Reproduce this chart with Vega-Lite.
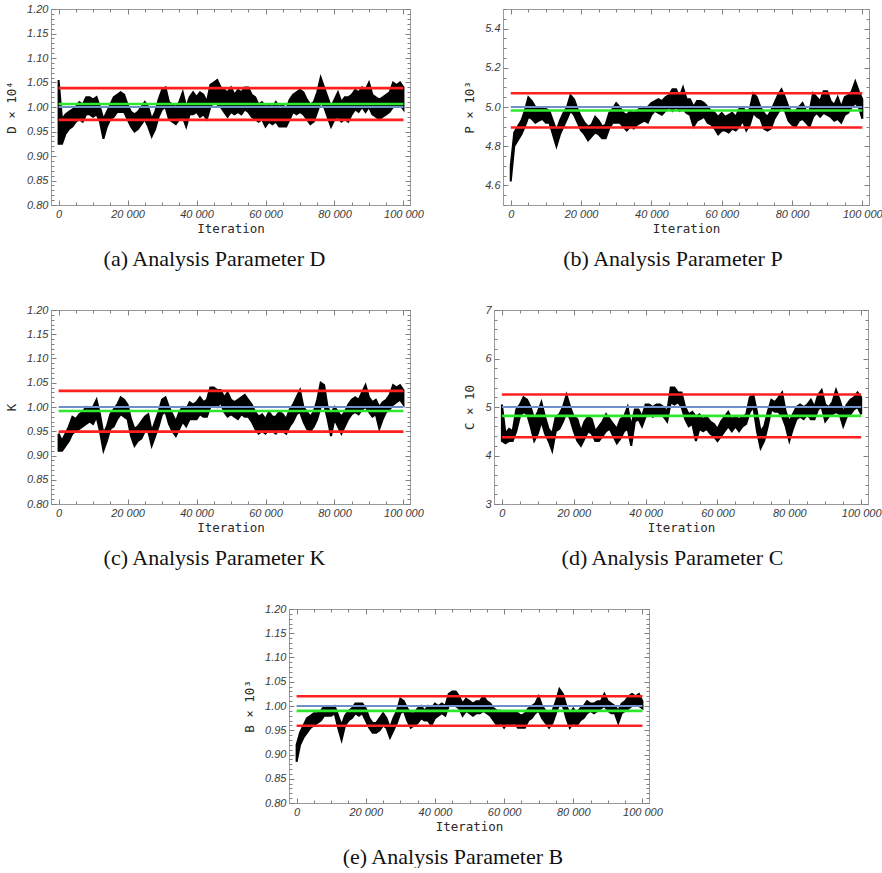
{
"$schema": "https://vega.github.io/schema/vega-lite/v6.json",
"background": "white",
"padding": {"left": 5, "top": 2, "right": 0, "bottom": 0},
"config": {
  "font": "Liberation Sans",
  "view": {"stroke": "#9a9a9a", "strokeWidth": 1},
  "axis": {"domain": false, "grid": false, "labels": false, "ticks": true, "tickColor": "#808080", "tickWidth": 1,
    "labelFont": "Liberation Sans", "labelFontStyle": "italic", "labelFontSize": 11, "labelColor": "#3a3a3a",
    "labelFlush": false, "labelPadding": 3, "labelOverlap": false,
    "titleFont": "DejaVu Sans Mono", "titleFontSize": 12.5, "titleFontWeight": "normal", "titleColor": "#2a2a2a", "titlePadding": 3},
  "title": {"font": "Liberation Serif", "fontSize": 22, "fontWeight": "normal", "color": "#111111", "orient": "bottom", "anchor": "middle", "offset": 14, "frame": "bounds"},
  "locale": {"number": {"decimal": ".", "thousands": " ", "grouping": [3], "currency": ["", ""]}}
},
"datasets": {
"levels": [
 {"p":"a","k":"upper","v":1.0386},{"p":"a","k":"lower","v":0.9738},{"p":"a","k":"mean","v":1.0062},{"p":"a","k":"true","v":1.0},
 {"p":"b","k":"upper","v":5.0705},{"p":"b","k":"lower","v":4.8955},{"p":"b","k":"mean","v":4.982},{"p":"b","k":"true","v":5.0},
 {"p":"c","k":"upper","v":1.0333},{"p":"c","k":"lower","v":0.9493},{"p":"c","k":"mean","v":0.9917},{"p":"c","k":"true","v":1.0},
 {"p":"d","k":"upper","v":5.258},{"p":"d","k":"lower","v":4.377},{"p":"d","k":"mean","v":4.817},{"p":"d","k":"true","v":5.0},
 {"p":"e","k":"upper","v":1.0202},{"p":"e","k":"lower","v":0.9592},{"p":"e","k":"mean","v":0.990},{"p":"e","k":"true","v":1.0}
],
"a": [
{"i":0,"lo":0.925,"hi":1.055},{"i":1000,"lo":0.925,"hi":0.975},{"i":2000,"lo":0.945,"hi":0.985},{"i":3000,"lo":0.955,"hi":0.99},{"i":4000,"lo":0.96,"hi":0.995},
{"i":5000,"lo":0.97,"hi":1.0},{"i":6000,"lo":0.975,"hi":1.01},{"i":7000,"lo":0.97,"hi":1.005},{"i":8000,"lo":0.985,"hi":1.02},{"i":9000,"lo":0.985,"hi":1.02},
{"i":10000,"lo":0.98,"hi":1.015},{"i":11000,"lo":0.985,"hi":1.02},{"i":12000,"lo":0.97,"hi":1.0},{"i":13000,"lo":0.935,"hi":0.975},{"i":14000,"lo":0.96,"hi":0.99},
{"i":15000,"lo":0.975,"hi":1.005},{"i":16000,"lo":0.98,"hi":1.02},{"i":17000,"lo":0.99,"hi":1.025},{"i":18000,"lo":0.99,"hi":1.03},{"i":19000,"lo":0.99,"hi":1.025},
{"i":20000,"lo":0.975,"hi":1.005},{"i":21000,"lo":0.96,"hi":0.99},{"i":22000,"lo":0.95,"hi":0.985},{"i":23000,"lo":0.955,"hi":0.99},{"i":24000,"lo":0.965,"hi":1.0},
{"i":25000,"lo":0.975,"hi":1.01},{"i":26000,"lo":0.96,"hi":1.0},{"i":27000,"lo":0.94,"hi":0.975},{"i":28000,"lo":0.955,"hi":0.99},{"i":29000,"lo":0.98,"hi":1.015},
{"i":30000,"lo":0.995,"hi":1.035},{"i":31000,"lo":1.0,"hi":1.04},{"i":32000,"lo":0.975,"hi":1.01},{"i":33000,"lo":0.97,"hi":1.005},{"i":34000,"lo":0.965,"hi":1.0},
{"i":35000,"lo":0.975,"hi":1.01},{"i":36000,"lo":0.98,"hi":1.03},{"i":37000,"lo":0.96,"hi":1.0},{"i":38000,"lo":0.985,"hi":1.02},{"i":39000,"lo":0.985,"hi":1.03},
{"i":40000,"lo":0.99,"hi":1.02},{"i":41000,"lo":0.98,"hi":1.03},{"i":42000,"lo":0.985,"hi":1.025},{"i":43000,"lo":0.975,"hi":1.01},{"i":44000,"lo":1.0,"hi":1.045},
{"i":45000,"lo":1.01,"hi":1.05},{"i":46000,"lo":1.005,"hi":1.055},{"i":47000,"lo":1.0,"hi":1.04},{"i":48000,"lo":0.99,"hi":1.035},{"i":49000,"lo":0.98,"hi":1.03},
{"i":50000,"lo":0.99,"hi":1.04},{"i":51000,"lo":0.985,"hi":1.025},{"i":52000,"lo":0.99,"hi":1.035},{"i":53000,"lo":0.985,"hi":1.03},{"i":54000,"lo":0.995,"hi":1.04},
{"i":55000,"lo":0.99,"hi":1.04},{"i":56000,"lo":0.98,"hi":1.025},{"i":57000,"lo":0.975,"hi":1.02},{"i":58000,"lo":0.97,"hi":1.005},{"i":59000,"lo":0.975,"hi":1.01},
{"i":60000,"lo":0.96,"hi":1.0},{"i":61000,"lo":0.97,"hi":1.005},{"i":62000,"lo":0.965,"hi":1.0},{"i":63000,"lo":0.97,"hi":1.01},{"i":64000,"lo":0.96,"hi":1.0},
{"i":65000,"lo":0.96,"hi":1.005},{"i":66000,"lo":0.96,"hi":0.995},{"i":67000,"lo":0.975,"hi":1.015},{"i":68000,"lo":0.99,"hi":1.025},{"i":69000,"lo":0.985,"hi":1.03},
{"i":70000,"lo":0.99,"hi":1.035},{"i":71000,"lo":0.985,"hi":1.03},{"i":72000,"lo":0.975,"hi":1.015},{"i":73000,"lo":0.965,"hi":1.005},{"i":74000,"lo":0.97,"hi":1.01},
{"i":75000,"lo":0.99,"hi":1.03},{"i":76000,"lo":1.01,"hi":1.06},{"i":77000,"lo":1.0,"hi":1.04},{"i":78000,"lo":0.98,"hi":1.02},{"i":79000,"lo":0.96,"hi":1.0},
{"i":80000,"lo":0.975,"hi":1.015},{"i":81000,"lo":0.98,"hi":1.03},{"i":82000,"lo":0.97,"hi":1.01},{"i":83000,"lo":0.975,"hi":1.02},{"i":84000,"lo":0.97,"hi":1.02},
{"i":85000,"lo":0.985,"hi":1.025},{"i":86000,"lo":0.995,"hi":1.035},{"i":87000,"lo":0.99,"hi":1.03},{"i":88000,"lo":1.0,"hi":1.04},{"i":89000,"lo":0.99,"hi":1.035},
{"i":90000,"lo":1.0,"hi":1.05},{"i":91000,"lo":0.985,"hi":1.025},{"i":92000,"lo":0.98,"hi":1.02},{"i":93000,"lo":0.975,"hi":1.015},{"i":94000,"lo":0.98,"hi":1.02},
{"i":95000,"lo":0.985,"hi":1.025},{"i":96000,"lo":0.99,"hi":1.03},{"i":97000,"lo":1.0,"hi":1.05},{"i":98000,"lo":1.0,"hi":1.045},{"i":99000,"lo":1.005,"hi":1.05},
{"i":100000,"lo":0.995,"hi":1.04}
],
"b": [
{"i":0,"lo":4.62,"hi":4.70},{"i":1000,"lo":4.80,"hi":4.87},{"i":2000,"lo":4.83,"hi":4.90},{"i":3000,"lo":4.86,"hi":4.93},{"i":4000,"lo":4.90,"hi":4.98},
{"i":5000,"lo":4.95,"hi":5.05},{"i":6000,"lo":4.94,"hi":5.03},{"i":7000,"lo":4.92,"hi":5.0},{"i":8000,"lo":4.93,"hi":5.0},{"i":9000,"lo":4.94,"hi":5.0},
{"i":10000,"lo":4.92,"hi":4.99},{"i":11000,"lo":4.92,"hi":4.98},{"i":12000,"lo":4.86,"hi":4.93},{"i":13000,"lo":4.80,"hi":4.88},{"i":14000,"lo":4.86,"hi":4.93},
{"i":15000,"lo":4.90,"hi":4.97},{"i":16000,"lo":4.94,"hi":5.0},{"i":17000,"lo":4.98,"hi":5.06},{"i":18000,"lo":4.96,"hi":5.04},{"i":19000,"lo":4.92,"hi":4.99},
{"i":20000,"lo":4.88,"hi":4.95},{"i":21000,"lo":4.86,"hi":4.92},{"i":22000,"lo":4.83,"hi":4.90},{"i":23000,"lo":4.85,"hi":4.91},{"i":24000,"lo":4.87,"hi":4.95},
{"i":25000,"lo":4.86,"hi":4.93},{"i":26000,"lo":4.84,"hi":4.90},{"i":27000,"lo":4.84,"hi":4.91},{"i":28000,"lo":4.89,"hi":4.97},{"i":29000,"lo":4.92,"hi":4.99},
{"i":30000,"lo":4.92,"hi":5.02},{"i":31000,"lo":4.92,"hi":5.0},{"i":32000,"lo":4.90,"hi":4.97},{"i":33000,"lo":4.88,"hi":4.96},{"i":34000,"lo":4.90,"hi":4.98},
{"i":35000,"lo":4.89,"hi":4.97},{"i":36000,"lo":4.91,"hi":4.98},{"i":37000,"lo":4.92,"hi":5.0},{"i":38000,"lo":4.93,"hi":4.99},{"i":39000,"lo":4.92,"hi":5.0},
{"i":40000,"lo":4.96,"hi":5.02},{"i":41000,"lo":4.98,"hi":5.03},{"i":42000,"lo":4.97,"hi":5.04},{"i":43000,"lo":4.96,"hi":5.03},{"i":44000,"lo":4.98,"hi":5.05},
{"i":45000,"lo":5.0,"hi":5.06},{"i":46000,"lo":4.98,"hi":5.09},{"i":47000,"lo":5.0,"hi":5.09},{"i":48000,"lo":4.98,"hi":5.05},{"i":49000,"lo":4.99,"hi":5.10},
{"i":50000,"lo":4.97,"hi":5.04},{"i":51000,"lo":4.96,"hi":5.04},{"i":52000,"lo":4.90,"hi":5.0},{"i":53000,"lo":4.93,"hi":5.03},{"i":54000,"lo":4.94,"hi":5.03},
{"i":55000,"lo":4.95,"hi":5.02},{"i":56000,"lo":4.92,"hi":5.0},{"i":57000,"lo":4.91,"hi":4.98},{"i":58000,"lo":4.89,"hi":4.97},{"i":59000,"lo":4.86,"hi":4.95},
{"i":60000,"lo":4.88,"hi":4.97},{"i":61000,"lo":4.88,"hi":4.95},{"i":62000,"lo":4.87,"hi":4.96},{"i":63000,"lo":4.89,"hi":4.97},{"i":64000,"lo":4.88,"hi":4.95},
{"i":65000,"lo":4.90,"hi":4.99},{"i":66000,"lo":4.93,"hi":5.0},{"i":67000,"lo":4.88,"hi":4.97},{"i":68000,"lo":4.91,"hi":4.99},{"i":69000,"lo":4.97,"hi":5.07},
{"i":70000,"lo":4.95,"hi":5.05},{"i":71000,"lo":4.94,"hi":5.0},{"i":72000,"lo":4.89,"hi":4.97},{"i":73000,"lo":4.88,"hi":4.95},{"i":74000,"lo":4.89,"hi":4.98},
{"i":75000,"lo":4.94,"hi":5.02},{"i":76000,"lo":4.97,"hi":5.06},{"i":77000,"lo":5.0,"hi":5.09},{"i":78000,"lo":4.98,"hi":5.05},{"i":79000,"lo":4.93,"hi":5.0},
{"i":80000,"lo":4.91,"hi":4.97},{"i":81000,"lo":4.90,"hi":4.98},{"i":82000,"lo":4.93,"hi":5.0},{"i":83000,"lo":4.94,"hi":5.02},{"i":84000,"lo":4.92,"hi":4.98},
{"i":85000,"lo":4.90,"hi":4.98},{"i":86000,"lo":4.95,"hi":5.07},{"i":87000,"lo":4.97,"hi":5.05},{"i":88000,"lo":4.95,"hi":5.03},{"i":89000,"lo":4.97,"hi":5.08},
{"i":90000,"lo":4.96,"hi":5.08},{"i":91000,"lo":4.95,"hi":5.03},{"i":92000,"lo":4.93,"hi":5.01},{"i":93000,"lo":4.94,"hi":5.05},{"i":94000,"lo":4.92,"hi":5.0},
{"i":95000,"lo":4.96,"hi":5.05},{"i":96000,"lo":4.97,"hi":5.06},{"i":97000,"lo":5.0,"hi":5.08},{"i":98000,"lo":5.02,"hi":5.13},{"i":99000,"lo":5.0,"hi":5.08},
{"i":100000,"lo":4.94,"hi":5.04}
],
"c": [
{"i":0,"lo":0.91,"hi":0.945},{"i":1000,"lo":0.91,"hi":0.93},{"i":2000,"lo":0.92,"hi":0.945},{"i":3000,"lo":0.93,"hi":0.96},{"i":4000,"lo":0.945,"hi":0.98},
{"i":5000,"lo":0.95,"hi":0.975},{"i":6000,"lo":0.955,"hi":0.985},{"i":7000,"lo":0.96,"hi":0.99},{"i":8000,"lo":0.965,"hi":1.0},{"i":9000,"lo":0.97,"hi":0.995},
{"i":10000,"lo":0.965,"hi":1.0},{"i":11000,"lo":0.98,"hi":1.015},{"i":12000,"lo":0.95,"hi":0.985},{"i":13000,"lo":0.91,"hi":0.945},{"i":14000,"lo":0.93,"hi":0.96},
{"i":15000,"lo":0.955,"hi":0.985},{"i":16000,"lo":0.96,"hi":0.995},{"i":17000,"lo":0.975,"hi":1.005},{"i":18000,"lo":0.985,"hi":1.02},{"i":19000,"lo":0.98,"hi":1.015},
{"i":20000,"lo":0.975,"hi":1.005},{"i":21000,"lo":0.94,"hi":0.975},{"i":22000,"lo":0.92,"hi":0.955},{"i":23000,"lo":0.93,"hi":0.96},{"i":24000,"lo":0.935,"hi":0.97},
{"i":25000,"lo":0.95,"hi":0.98},{"i":26000,"lo":0.95,"hi":0.985},{"i":27000,"lo":0.92,"hi":0.95},{"i":28000,"lo":0.94,"hi":0.97},{"i":29000,"lo":0.96,"hi":0.99},
{"i":30000,"lo":0.985,"hi":1.015},{"i":31000,"lo":0.99,"hi":1.02},{"i":32000,"lo":0.965,"hi":1.0},{"i":33000,"lo":0.95,"hi":0.985},{"i":34000,"lo":0.94,"hi":0.97},
{"i":35000,"lo":0.955,"hi":0.99},{"i":36000,"lo":0.97,"hi":1.0},{"i":37000,"lo":0.96,"hi":0.995},{"i":38000,"lo":0.975,"hi":1.01},{"i":39000,"lo":0.975,"hi":1.005},
{"i":40000,"lo":0.975,"hi":1.01},{"i":41000,"lo":0.985,"hi":1.02},{"i":42000,"lo":0.98,"hi":1.01},{"i":43000,"lo":0.98,"hi":1.015},{"i":44000,"lo":1.0,"hi":1.04},
{"i":45000,"lo":1.005,"hi":1.04},{"i":46000,"lo":1.0,"hi":1.035},{"i":47000,"lo":1.01,"hi":1.035},{"i":48000,"lo":0.99,"hi":1.02},{"i":49000,"lo":0.98,"hi":1.03},
{"i":50000,"lo":0.985,"hi":1.015},{"i":51000,"lo":0.98,"hi":1.01},{"i":52000,"lo":0.975,"hi":1.015},{"i":53000,"lo":0.985,"hi":1.02},{"i":54000,"lo":0.98,"hi":1.025},
{"i":55000,"lo":0.98,"hi":1.015},{"i":56000,"lo":0.97,"hi":1.005},{"i":57000,"lo":0.955,"hi":0.99},{"i":58000,"lo":0.945,"hi":0.98},{"i":59000,"lo":0.95,"hi":0.985},
{"i":60000,"lo":0.945,"hi":0.975},{"i":61000,"lo":0.955,"hi":0.99},{"i":62000,"lo":0.95,"hi":0.98},{"i":63000,"lo":0.945,"hi":0.98},{"i":64000,"lo":0.955,"hi":0.99},
{"i":65000,"lo":0.95,"hi":0.985},{"i":66000,"lo":0.945,"hi":0.975},{"i":67000,"lo":0.96,"hi":0.995},{"i":68000,"lo":0.97,"hi":1.005},{"i":69000,"lo":0.985,"hi":1.02},
{"i":70000,"lo":0.99,"hi":1.035},{"i":71000,"lo":0.97,"hi":1.0},{"i":72000,"lo":0.955,"hi":0.99},{"i":73000,"lo":0.95,"hi":0.98},{"i":74000,"lo":0.96,"hi":0.99},
{"i":75000,"lo":0.975,"hi":1.015},{"i":76000,"lo":1.0,"hi":1.05},{"i":77000,"lo":1.005,"hi":1.045},{"i":78000,"lo":0.975,"hi":1.0},{"i":79000,"lo":0.94,"hi":0.985},
{"i":80000,"lo":0.975,"hi":1.0},{"i":81000,"lo":0.96,"hi":0.99},{"i":82000,"lo":0.945,"hi":0.98},{"i":83000,"lo":0.96,"hi":0.99},{"i":84000,"lo":0.975,"hi":1.005},
{"i":85000,"lo":0.985,"hi":1.015},{"i":86000,"lo":0.99,"hi":1.02},{"i":87000,"lo":0.985,"hi":1.015},{"i":88000,"lo":0.995,"hi":1.03},{"i":89000,"lo":1.0,"hi":1.045},
{"i":90000,"lo":0.99,"hi":1.02},{"i":91000,"lo":0.98,"hi":1.01},{"i":92000,"lo":0.985,"hi":1.015},{"i":93000,"lo":0.955,"hi":1.0},{"i":94000,"lo":0.975,"hi":1.01},
{"i":95000,"lo":0.99,"hi":1.015},{"i":96000,"lo":0.995,"hi":1.025},{"i":97000,"lo":1.005,"hi":1.045},{"i":98000,"lo":1.01,"hi":1.04},{"i":99000,"lo":1.015,"hi":1.045},
{"i":100000,"lo":1.005,"hi":1.035}
],
"d": [
{"i":0,"lo":4.3,"hi":5.05},{"i":1000,"lo":4.25,"hi":4.45},{"i":2000,"lo":4.3,"hi":4.55},{"i":3000,"lo":4.3,"hi":4.5},{"i":4000,"lo":4.5,"hi":4.95},
{"i":5000,"lo":4.8,"hi":5.05},{"i":6000,"lo":4.9,"hi":5.2},{"i":7000,"lo":4.85,"hi":5.15},{"i":8000,"lo":4.6,"hi":5.0},{"i":9000,"lo":4.3,"hi":4.75},
{"i":10000,"lo":4.45,"hi":4.9},{"i":11000,"lo":4.7,"hi":5.1},{"i":12000,"lo":4.45,"hi":4.8},{"i":13000,"lo":4.3,"hi":4.55},{"i":14000,"lo":4.1,"hi":4.45},
{"i":15000,"lo":4.5,"hi":4.8},{"i":16000,"lo":4.55,"hi":4.85},{"i":17000,"lo":4.7,"hi":5.0},{"i":18000,"lo":4.9,"hi":5.25},{"i":19000,"lo":4.75,"hi":5.0},
{"i":20000,"lo":4.5,"hi":4.8},{"i":21000,"lo":4.3,"hi":4.75},{"i":22000,"lo":4.2,"hi":4.5},{"i":23000,"lo":4.35,"hi":4.7},{"i":24000,"lo":4.5,"hi":4.8},
{"i":25000,"lo":4.45,"hi":4.75},{"i":26000,"lo":4.3,"hi":4.5},{"i":27000,"lo":4.3,"hi":4.6},{"i":28000,"lo":4.4,"hi":4.7},{"i":29000,"lo":4.5,"hi":4.85},
{"i":30000,"lo":4.55,"hi":4.75},{"i":31000,"lo":4.4,"hi":4.65},{"i":32000,"lo":4.25,"hi":4.55},{"i":33000,"lo":4.35,"hi":4.75},{"i":34000,"lo":4.5,"hi":4.8},
{"i":35000,"lo":4.55,"hi":5.0},{"i":36000,"lo":4.2,"hi":4.6},{"i":37000,"lo":4.7,"hi":4.95},{"i":38000,"lo":4.75,"hi":4.95},{"i":39000,"lo":4.6,"hi":4.8},
{"i":40000,"lo":4.8,"hi":5.05},{"i":41000,"lo":4.85,"hi":5.05},{"i":42000,"lo":4.8,"hi":5.0},{"i":43000,"lo":4.85,"hi":5.05},{"i":44000,"lo":4.85,"hi":5.05},
{"i":45000,"lo":4.8,"hi":5.0},{"i":46000,"lo":4.7,"hi":4.9},{"i":47000,"lo":5.1,"hi":5.4},{"i":48000,"lo":5.05,"hi":5.4},{"i":49000,"lo":5.1,"hi":5.3},
{"i":50000,"lo":5.0,"hi":5.3},{"i":51000,"lo":4.75,"hi":5.0},{"i":52000,"lo":4.6,"hi":4.85},{"i":53000,"lo":4.65,"hi":4.9},{"i":54000,"lo":4.3,"hi":4.8},
{"i":55000,"lo":4.55,"hi":4.85},{"i":56000,"lo":4.5,"hi":4.75},{"i":57000,"lo":4.55,"hi":4.8},{"i":58000,"lo":4.45,"hi":4.7},{"i":59000,"lo":4.4,"hi":4.65},
{"i":60000,"lo":4.3,"hi":4.55},{"i":61000,"lo":4.4,"hi":4.7},{"i":62000,"lo":4.5,"hi":4.8},{"i":63000,"lo":4.6,"hi":4.9},{"i":64000,"lo":4.5,"hi":4.75},
{"i":65000,"lo":4.6,"hi":4.8},{"i":66000,"lo":4.5,"hi":4.75},{"i":67000,"lo":4.6,"hi":4.8},{"i":68000,"lo":4.65,"hi":4.85},{"i":69000,"lo":4.9,"hi":5.2},
{"i":70000,"lo":5.0,"hi":5.25},{"i":71000,"lo":4.5,"hi":4.9},{"i":72000,"lo":4.15,"hi":4.5},{"i":73000,"lo":4.3,"hi":4.6},{"i":74000,"lo":4.6,"hi":4.9},
{"i":75000,"lo":4.95,"hi":5.15},{"i":76000,"lo":4.9,"hi":5.1},{"i":77000,"lo":4.9,"hi":5.2},{"i":78000,"lo":4.8,"hi":5.3},{"i":79000,"lo":4.6,"hi":4.9},
{"i":80000,"lo":4.3,"hi":4.7},{"i":81000,"lo":4.55,"hi":4.85},{"i":82000,"lo":4.75,"hi":5.0},{"i":83000,"lo":4.8,"hi":5.05},{"i":84000,"lo":4.75,"hi":5.0},
{"i":85000,"lo":4.85,"hi":5.05},{"i":86000,"lo":4.75,"hi":5.15},{"i":87000,"lo":4.75,"hi":5.0},{"i":88000,"lo":4.95,"hi":5.25},{"i":89000,"lo":5.0,"hi":5.35},
{"i":90000,"lo":4.7,"hi":5.05},{"i":91000,"lo":4.8,"hi":5.0},{"i":92000,"lo":4.85,"hi":5.1},{"i":93000,"lo":4.9,"hi":5.35},{"i":94000,"lo":4.85,"hi":5.15},
{"i":95000,"lo":4.6,"hi":4.9},{"i":96000,"lo":4.8,"hi":5.05},{"i":97000,"lo":4.85,"hi":5.15},{"i":98000,"lo":4.95,"hi":5.2},{"i":99000,"lo":5.0,"hi":5.3},
{"i":100000,"lo":4.85,"hi":5.2}
],
"e": [
{"i":0,"lo":0.885,"hi":0.92},{"i":1000,"lo":0.92,"hi":0.945},{"i":2000,"lo":0.935,"hi":0.96},{"i":3000,"lo":0.945,"hi":0.975},{"i":4000,"lo":0.955,"hi":0.98},
{"i":5000,"lo":0.96,"hi":0.985},{"i":6000,"lo":0.965,"hi":0.985},{"i":7000,"lo":0.97,"hi":0.99},{"i":8000,"lo":0.98,"hi":1.0},{"i":9000,"lo":0.98,"hi":1.0},
{"i":10000,"lo":0.98,"hi":0.995},{"i":11000,"lo":0.985,"hi":1.0},{"i":12000,"lo":0.955,"hi":0.98},{"i":13000,"lo":0.93,"hi":0.96},{"i":14000,"lo":0.96,"hi":0.98},
{"i":15000,"lo":0.97,"hi":0.99},{"i":16000,"lo":0.975,"hi":0.995},{"i":17000,"lo":0.985,"hi":1.005},{"i":18000,"lo":0.98,"hi":1.005},{"i":19000,"lo":0.985,"hi":1.005},
{"i":20000,"lo":0.97,"hi":0.995},{"i":21000,"lo":0.955,"hi":0.975},{"i":22000,"lo":0.945,"hi":0.965},{"i":23000,"lo":0.945,"hi":0.965},{"i":24000,"lo":0.95,"hi":0.975},
{"i":25000,"lo":0.96,"hi":0.985},{"i":26000,"lo":0.955,"hi":0.975},{"i":27000,"lo":0.935,"hi":0.955},{"i":28000,"lo":0.95,"hi":0.975},{"i":29000,"lo":0.965,"hi":0.99},
{"i":30000,"lo":0.985,"hi":1.015},{"i":31000,"lo":0.99,"hi":1.01},{"i":32000,"lo":0.97,"hi":0.995},{"i":33000,"lo":0.955,"hi":0.985},{"i":34000,"lo":0.96,"hi":0.985},
{"i":35000,"lo":0.965,"hi":0.995},{"i":36000,"lo":0.975,"hi":1.0},{"i":37000,"lo":0.97,"hi":0.99},{"i":38000,"lo":0.97,"hi":1.0},{"i":39000,"lo":0.96,"hi":0.995},
{"i":40000,"lo":0.975,"hi":1.005},{"i":41000,"lo":0.98,"hi":1.0},{"i":42000,"lo":0.985,"hi":1.005},{"i":43000,"lo":0.98,"hi":1.0},{"i":44000,"lo":1.0,"hi":1.025},
{"i":45000,"lo":1.005,"hi":1.03},{"i":46000,"lo":1.0,"hi":1.03},{"i":47000,"lo":0.995,"hi":1.02},{"i":48000,"lo":0.98,"hi":1.005},{"i":49000,"lo":0.99,"hi":1.015},
{"i":50000,"lo":0.985,"hi":1.01},{"i":51000,"lo":0.98,"hi":1.005},{"i":52000,"lo":0.985,"hi":1.01},{"i":53000,"lo":0.985,"hi":1.01},{"i":54000,"lo":0.99,"hi":1.02},
{"i":55000,"lo":0.985,"hi":1.01},{"i":56000,"lo":0.98,"hi":1.005},{"i":57000,"lo":0.97,"hi":0.995},{"i":58000,"lo":0.96,"hi":0.99},{"i":59000,"lo":0.965,"hi":0.99},
{"i":60000,"lo":0.955,"hi":0.985},{"i":61000,"lo":0.965,"hi":0.99},{"i":62000,"lo":0.96,"hi":0.985},{"i":63000,"lo":0.965,"hi":0.99},{"i":64000,"lo":0.955,"hi":0.985},
{"i":65000,"lo":0.955,"hi":0.98},{"i":66000,"lo":0.955,"hi":0.985},{"i":67000,"lo":0.97,"hi":0.995},{"i":68000,"lo":0.975,"hi":1.0},{"i":69000,"lo":0.985,"hi":1.005},
{"i":70000,"lo":0.99,"hi":1.02},{"i":71000,"lo":0.975,"hi":1.0},{"i":72000,"lo":0.965,"hi":0.99},{"i":73000,"lo":0.955,"hi":0.985},{"i":74000,"lo":0.965,"hi":0.99},
{"i":75000,"lo":0.985,"hi":1.01},{"i":76000,"lo":1.005,"hi":1.035},{"i":77000,"lo":1.0,"hi":1.025},{"i":78000,"lo":0.975,"hi":1.0},{"i":79000,"lo":0.955,"hi":0.985},
{"i":80000,"lo":0.965,"hi":0.995},{"i":81000,"lo":0.96,"hi":0.985},{"i":82000,"lo":0.97,"hi":0.995},{"i":83000,"lo":0.975,"hi":1.0},{"i":84000,"lo":0.985,"hi":1.01},
{"i":85000,"lo":0.99,"hi":1.005},{"i":86000,"lo":0.985,"hi":1.005},{"i":87000,"lo":0.99,"hi":1.01},{"i":88000,"lo":0.995,"hi":1.01},{"i":89000,"lo":1.0,"hi":1.025},
{"i":90000,"lo":0.99,"hi":1.01},{"i":91000,"lo":0.985,"hi":1.005},{"i":92000,"lo":0.985,"hi":1.0},{"i":93000,"lo":0.965,"hi":0.99},{"i":94000,"lo":0.985,"hi":1.005},
{"i":95000,"lo":0.99,"hi":1.01},{"i":96000,"lo":0.995,"hi":1.02},{"i":97000,"lo":1.0,"hi":1.025},{"i":98000,"lo":1.0,"hi":1.02},{"i":99000,"lo":1.0,"hi":1.025},
{"i":100000,"lo":0.995,"hi":1.01}
]
},
"spacing": 33,
"vconcat": [
{"bounds": "flush", "spacing": 93, "hconcat": [
 {"width": 359, "height": 196, "data": {"name": "a"}, "title": {"text": "(a)  Analysis Parameter D"},
  "resolve": {"axis": {"x": "independent", "y": "independent"}},
  "layer": [
   {"mark": {"type": "area", "color": "#000000", "stroke": "#000000", "strokeWidth": 2},
    "encoding": {
     "x": {"field": "i", "type": "quantitative", "scale": {"domain": [-2200, 101900], "nice": false, "zero": false},
           "axis": {"orient": "bottom", "labels": true, "ticks": false, "tickSize": 0, "tickCount": 5, "format": ",d", "title": "Iteration"}},
     "y": {"field": "lo", "type": "quantitative", "scale": {"domain": [0.8, 1.2], "nice": false, "zero": false},
           "axis": {"orient": "left", "labels": true, "ticks": false, "tickSize": 0, "tickCount": 8, "format": ".2f", "title": "D × 10⁴", "titlePadding": 8}},
     "y2": {"field": "hi"}}},
   {"data": {"name": "levels"}, "transform": [{"filter": "datum.p == 'a'"}], "mark": {"type": "rule"},
    "encoding": {"x": {"datum": 0, "axis": null}, "x2": {"datum": 100000},
     "y": {"field": "v", "type": "quantitative", "axis": null},
     "color": {"field": "k", "type": "nominal", "scale": {"domain": ["upper", "lower", "mean", "true"], "range": ["#ff1f1f", "#ff1f1f", "#2ee82e", "#6f8fca"]}, "legend": null},
     "strokeWidth": {"condition": {"test": "datum.k == 'true'", "value": 1.8}, "value": 2.6}}},
   {"mark": {"type": "point", "opacity": 0},
    "encoding": {"x": {"field": "i", "type": "quantitative", "axis": {"orient": "bottom", "tickCount": 5, "tickSize": -5, "title": null}},
                 "y": {"field": "lo", "type": "quantitative", "axis": {"orient": "left", "tickCount": 8, "tickSize": -5, "title": null}}}},
   {"mark": {"type": "point", "opacity": 0},
    "encoding": {"x": {"field": "i", "type": "quantitative", "axis": {"orient": "bottom", "tickCount": 20, "tickSize": -3, "title": null}},
                 "y": {"field": "lo", "type": "quantitative", "axis": {"orient": "left", "tickCount": 40, "tickSize": -3, "title": null}}}},
   {"mark": {"type": "point", "opacity": 0},
    "encoding": {"x": {"field": "i", "type": "quantitative", "axis": {"orient": "top", "tickCount": 5, "tickSize": -5, "title": null}},
                 "y": {"field": "lo", "type": "quantitative", "axis": {"orient": "right", "tickCount": 8, "tickSize": -5, "title": null}}}},
   {"mark": {"type": "point", "opacity": 0},
    "encoding": {"x": {"field": "i", "type": "quantitative", "axis": {"orient": "top", "tickCount": 20, "tickSize": -3, "title": null}},
                 "y": {"field": "lo", "type": "quantitative", "axis": {"orient": "right", "tickCount": 40, "tickSize": -3, "title": null}}}}
  ]},
 {"width": 366, "height": 196, "data": {"name": "b"}, "title": {"text": "(b)  Analysis Parameter P"},
  "resolve": {"axis": {"x": "independent", "y": "independent"}},
  "layer": [
   {"mark": {"type": "area", "color": "#000000", "stroke": "#000000", "strokeWidth": 2},
    "encoding": {
     "x": {"field": "i", "type": "quantitative", "scale": {"domain": [-2200, 101900], "nice": false, "zero": false},
           "axis": {"orient": "bottom", "labels": true, "ticks": false, "tickSize": 0, "tickCount": 5, "format": ",d", "title": "Iteration"}},
     "y": {"field": "lo", "type": "quantitative", "scale": {"domain": [4.5, 5.5], "nice": false, "zero": false},
           "axis": {"orient": "left", "labels": true, "ticks": false, "tickSize": 0, "tickCount": 5, "format": ".1f", "title": "P × 10³", "titlePadding": 8}},
     "y2": {"field": "hi"}}},
   {"data": {"name": "levels"}, "transform": [{"filter": "datum.p == 'b'"}], "mark": {"type": "rule"},
    "encoding": {"x": {"datum": 0, "axis": null}, "x2": {"datum": 100000},
     "y": {"field": "v", "type": "quantitative", "axis": null},
     "color": {"field": "k", "type": "nominal", "scale": {"domain": ["upper", "lower", "mean", "true"], "range": ["#ff1f1f", "#ff1f1f", "#2ee82e", "#6f8fca"]}, "legend": null},
     "strokeWidth": {"condition": {"test": "datum.k == 'true'", "value": 1.8}, "value": 2.6}}},
   {"mark": {"type": "point", "opacity": 0},
    "encoding": {"x": {"field": "i", "type": "quantitative", "axis": {"orient": "bottom", "tickCount": 5, "tickSize": -5, "title": null}},
                 "y": {"field": "lo", "type": "quantitative", "axis": {"orient": "left", "tickCount": 5, "tickSize": -5, "title": null}}}},
   {"mark": {"type": "point", "opacity": 0},
    "encoding": {"x": {"field": "i", "type": "quantitative", "axis": {"orient": "bottom", "tickCount": 20, "tickSize": -3, "title": null}},
                 "y": {"field": "lo", "type": "quantitative", "axis": {"orient": "left", "tickCount": 20, "tickSize": -3, "title": null}}}},
   {"mark": {"type": "point", "opacity": 0},
    "encoding": {"x": {"field": "i", "type": "quantitative", "axis": {"orient": "top", "tickCount": 5, "tickSize": -5, "title": null}},
                 "y": {"field": "lo", "type": "quantitative", "axis": {"orient": "right", "tickCount": 5, "tickSize": -5, "title": null}}}},
   {"mark": {"type": "point", "opacity": 0},
    "encoding": {"x": {"field": "i", "type": "quantitative", "axis": {"orient": "top", "tickCount": 20, "tickSize": -3, "title": null}},
                 "y": {"field": "lo", "type": "quantitative", "axis": {"orient": "right", "tickCount": 20, "tickSize": -3, "title": null}}}}
  ]}
]},
{"bounds": "flush", "spacing": 84, "hconcat": [
 {"width": 359, "height": 194, "data": {"name": "c"}, "title": {"text": "(c)  Analysis Parameter K"},
  "resolve": {"axis": {"x": "independent", "y": "independent"}},
  "layer": [
   {"mark": {"type": "area", "color": "#000000", "stroke": "#000000", "strokeWidth": 2},
    "encoding": {
     "x": {"field": "i", "type": "quantitative", "scale": {"domain": [-2200, 101900], "nice": false, "zero": false},
           "axis": {"orient": "bottom", "labels": true, "ticks": false, "tickSize": 0, "tickCount": 5, "format": ",d", "title": "Iteration"}},
     "y": {"field": "lo", "type": "quantitative", "scale": {"domain": [0.8, 1.2], "nice": false, "zero": false},
           "axis": {"orient": "left", "labels": true, "ticks": false, "tickSize": 0, "tickCount": 8, "format": ".2f", "title": "K", "titlePadding": 8}},
     "y2": {"field": "hi"}}},
   {"data": {"name": "levels"}, "transform": [{"filter": "datum.p == 'c'"}], "mark": {"type": "rule"},
    "encoding": {"x": {"datum": 0, "axis": null}, "x2": {"datum": 100000},
     "y": {"field": "v", "type": "quantitative", "axis": null},
     "color": {"field": "k", "type": "nominal", "scale": {"domain": ["upper", "lower", "mean", "true"], "range": ["#ff1f1f", "#ff1f1f", "#2ee82e", "#6f8fca"]}, "legend": null},
     "strokeWidth": {"condition": {"test": "datum.k == 'true'", "value": 1.8}, "value": 2.6}}},
   {"mark": {"type": "point", "opacity": 0},
    "encoding": {"x": {"field": "i", "type": "quantitative", "axis": {"orient": "bottom", "tickCount": 5, "tickSize": -5, "title": null}},
                 "y": {"field": "lo", "type": "quantitative", "axis": {"orient": "left", "tickCount": 8, "tickSize": -5, "title": null}}}},
   {"mark": {"type": "point", "opacity": 0},
    "encoding": {"x": {"field": "i", "type": "quantitative", "axis": {"orient": "bottom", "tickCount": 20, "tickSize": -3, "title": null}},
                 "y": {"field": "lo", "type": "quantitative", "axis": {"orient": "left", "tickCount": 40, "tickSize": -3, "title": null}}}},
   {"mark": {"type": "point", "opacity": 0},
    "encoding": {"x": {"field": "i", "type": "quantitative", "axis": {"orient": "top", "tickCount": 5, "tickSize": -5, "title": null}},
                 "y": {"field": "lo", "type": "quantitative", "axis": {"orient": "right", "tickCount": 8, "tickSize": -5, "title": null}}}},
   {"mark": {"type": "point", "opacity": 0},
    "encoding": {"x": {"field": "i", "type": "quantitative", "axis": {"orient": "top", "tickCount": 20, "tickSize": -3, "title": null}},
                 "y": {"field": "lo", "type": "quantitative", "axis": {"orient": "right", "tickCount": 40, "tickSize": -3, "title": null}}}}
  ]},
 {"width": 374, "height": 194, "data": {"name": "d"}, "title": {"text": "(d)  Analysis Parameter C"},
  "resolve": {"axis": {"x": "independent", "y": "independent"}},
  "layer": [
   {"mark": {"type": "area", "color": "#000000", "stroke": "#000000", "strokeWidth": 2},
    "encoding": {
     "x": {"field": "i", "type": "quantitative", "scale": {"domain": [-2200, 101900], "nice": false, "zero": false},
           "axis": {"orient": "bottom", "labels": true, "ticks": false, "tickSize": 0, "tickCount": 5, "format": ",d", "title": "Iteration"}},
     "y": {"field": "lo", "type": "quantitative", "scale": {"domain": [3, 7], "nice": false, "zero": false},
           "axis": {"orient": "left", "labels": true, "ticks": false, "tickSize": 0, "tickCount": 4, "format": "d", "title": "C × 10", "titlePadding": 8}},
     "y2": {"field": "hi"}}},
   {"data": {"name": "levels"}, "transform": [{"filter": "datum.p == 'd'"}], "mark": {"type": "rule"},
    "encoding": {"x": {"datum": 0, "axis": null}, "x2": {"datum": 100000},
     "y": {"field": "v", "type": "quantitative", "axis": null},
     "color": {"field": "k", "type": "nominal", "scale": {"domain": ["upper", "lower", "mean", "true"], "range": ["#ff1f1f", "#ff1f1f", "#2ee82e", "#6f8fca"]}, "legend": null},
     "strokeWidth": {"condition": {"test": "datum.k == 'true'", "value": 1.8}, "value": 2.6}}},
   {"mark": {"type": "point", "opacity": 0},
    "encoding": {"x": {"field": "i", "type": "quantitative", "axis": {"orient": "bottom", "tickCount": 5, "tickSize": -5, "title": null}},
                 "y": {"field": "lo", "type": "quantitative", "axis": {"orient": "left", "tickCount": 4, "tickSize": -5, "title": null}}}},
   {"mark": {"type": "point", "opacity": 0},
    "encoding": {"x": {"field": "i", "type": "quantitative", "axis": {"orient": "bottom", "tickCount": 20, "tickSize": -3, "title": null}},
                 "y": {"field": "lo", "type": "quantitative", "axis": {"orient": "left", "tickCount": 20, "tickSize": -3, "title": null}}}},
   {"mark": {"type": "point", "opacity": 0},
    "encoding": {"x": {"field": "i", "type": "quantitative", "axis": {"orient": "top", "tickCount": 5, "tickSize": -5, "title": null}},
                 "y": {"field": "lo", "type": "quantitative", "axis": {"orient": "right", "tickCount": 4, "tickSize": -5, "title": null}}}},
   {"mark": {"type": "point", "opacity": 0},
    "encoding": {"x": {"field": "i", "type": "quantitative", "axis": {"orient": "top", "tickCount": 20, "tickSize": -3, "title": null}},
                 "y": {"field": "lo", "type": "quantitative", "axis": {"orient": "right", "tickCount": 20, "tickSize": -3, "title": null}}}}
  ]}
]},
{"bounds": "flush", "spacing": 10, "hconcat": [
 {"width": 228, "height": 194, "view": {"stroke": null}, "data": {"values": [{}]}, "mark": {"type": "point", "opacity": 0}},
 {"width": 360, "height": 194, "data": {"name": "e"}, "title": {"text": "(e)  Analysis Parameter B"},
  "resolve": {"axis": {"x": "independent", "y": "independent"}},
  "layer": [
   {"mark": {"type": "area", "color": "#000000", "stroke": "#000000", "strokeWidth": 2},
    "encoding": {
     "x": {"field": "i", "type": "quantitative", "scale": {"domain": [-2200, 101900], "nice": false, "zero": false},
           "axis": {"orient": "bottom", "labels": true, "ticks": false, "tickSize": 0, "tickCount": 5, "format": ",d", "title": "Iteration"}},
     "y": {"field": "lo", "type": "quantitative", "scale": {"domain": [0.8, 1.2], "nice": false, "zero": false},
           "axis": {"orient": "left", "labels": true, "ticks": false, "tickSize": 0, "tickCount": 8, "format": ".2f", "title": "B × 10³", "titlePadding": 8}},
     "y2": {"field": "hi"}}},
   {"data": {"name": "levels"}, "transform": [{"filter": "datum.p == 'e'"}], "mark": {"type": "rule"},
    "encoding": {"x": {"datum": 0, "axis": null}, "x2": {"datum": 100000},
     "y": {"field": "v", "type": "quantitative", "axis": null},
     "color": {"field": "k", "type": "nominal", "scale": {"domain": ["upper", "lower", "mean", "true"], "range": ["#ff1f1f", "#ff1f1f", "#2ee82e", "#6f8fca"]}, "legend": null},
     "strokeWidth": {"condition": {"test": "datum.k == 'true'", "value": 1.8}, "value": 2.6}}},
   {"mark": {"type": "point", "opacity": 0},
    "encoding": {"x": {"field": "i", "type": "quantitative", "axis": {"orient": "bottom", "tickCount": 5, "tickSize": -5, "title": null}},
                 "y": {"field": "lo", "type": "quantitative", "axis": {"orient": "left", "tickCount": 8, "tickSize": -5, "title": null}}}},
   {"mark": {"type": "point", "opacity": 0},
    "encoding": {"x": {"field": "i", "type": "quantitative", "axis": {"orient": "bottom", "tickCount": 20, "tickSize": -3, "title": null}},
                 "y": {"field": "lo", "type": "quantitative", "axis": {"orient": "left", "tickCount": 40, "tickSize": -3, "title": null}}}},
   {"mark": {"type": "point", "opacity": 0},
    "encoding": {"x": {"field": "i", "type": "quantitative", "axis": {"orient": "top", "tickCount": 5, "tickSize": -5, "title": null}},
                 "y": {"field": "lo", "type": "quantitative", "axis": {"orient": "right", "tickCount": 8, "tickSize": -5, "title": null}}}},
   {"mark": {"type": "point", "opacity": 0},
    "encoding": {"x": {"field": "i", "type": "quantitative", "axis": {"orient": "top", "tickCount": 20, "tickSize": -3, "title": null}},
                 "y": {"field": "lo", "type": "quantitative", "axis": {"orient": "right", "tickCount": 40, "tickSize": -3, "title": null}}}}
  ]}
]}
]
}
